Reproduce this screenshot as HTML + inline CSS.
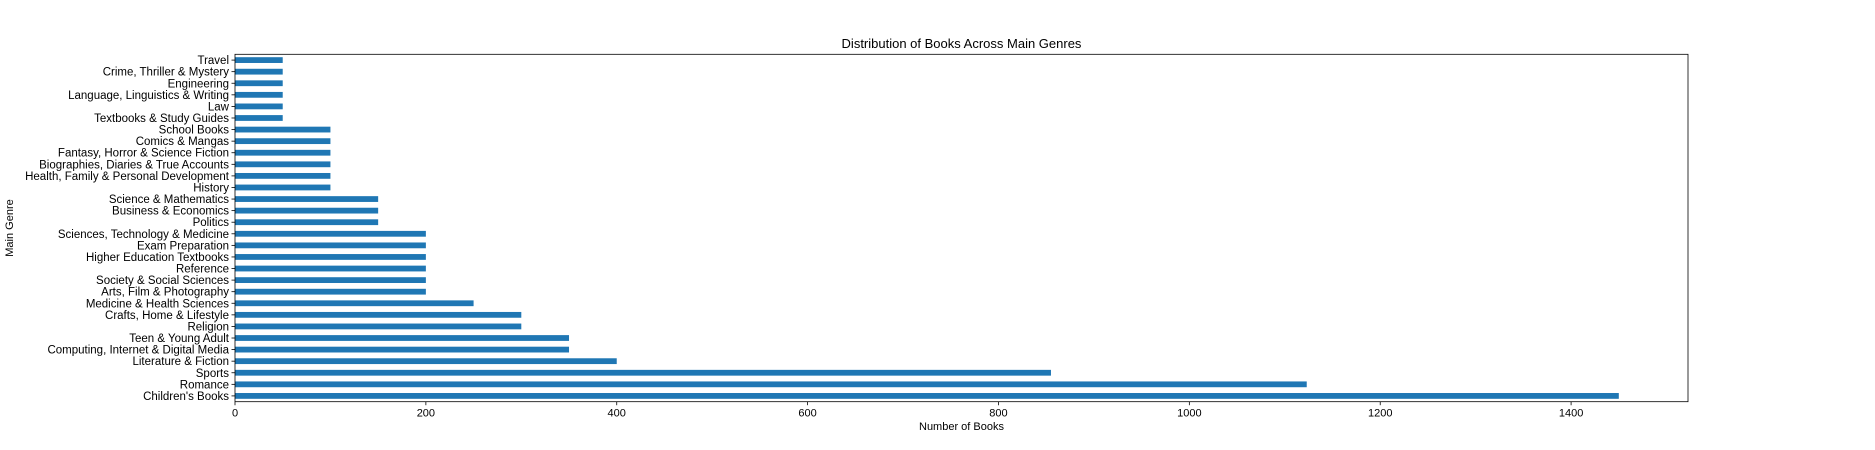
<!DOCTYPE html>
<html><head><meta charset="utf-8"><style>
html,body{margin:0;padding:0;background:#fff;}
svg{display:block;font-family:"Liberation Sans","DejaVu Sans",sans-serif;}
</style></head><body>
<svg id="chart" width="1875" height="450" viewBox="0 0 1875 450"></svg>
<script>
const categories = ["Travel","Crime, Thriller & Mystery","Engineering","Language, Linguistics & Writing","Law","Textbooks & Study Guides","School Books","Comics & Mangas","Fantasy, Horror & Science Fiction","Biographies, Diaries & True Accounts","Health, Family & Personal Development","History","Science & Mathematics","Business & Economics","Politics","Sciences, Technology & Medicine","Exam Preparation","Higher Education Textbooks","Reference","Society & Social Sciences","Arts, Film & Photography","Medicine & Health Sciences","Crafts, Home & Lifestyle","Religion","Teen & Young Adult","Computing, Internet & Digital Media","Literature & Fiction","Sports","Romance","Children's Books"];
const bookCounts = [50,50,50,50,50,50,100,100,100,100,100,100,150,150,150,200,200,200,200,200,200,250,300,300,350,350,400,855,1123,1450];
const xTicks = [0,200,400,600,800,1000,1200,1400];

const NS="http://www.w3.org/2000/svg";
const svg=document.getElementById('chart');
const L=235,R=1688,T=54.3,B=401.7;
const xMax=Math.max(...bookCounts)*1.05;
const x=v=>L+(v/xMax)*(R-L);
const band=(B-T)/categories.length;
const yc=i=>T+band*(i+0.5);
function mk(tag,attrs,parent){const e=document.createElementNS(NS,tag);for(const k in attrs)e.setAttribute(k,attrs[k]);(parent||svg).appendChild(e);return e;}

const bars=mk('g',{});


categories.forEach((c,i)=>{
  const r=mk('rect',{x:x(0),y:yc(i)-band*0.25,width:x(bookCounts[i])-x(0),height:band*0.5,fill:'#1f77b4'},bars);
  
  
  const tk=mk('line',{x1:L-3.5,x2:L,y1:yc(i),y2:yc(i),stroke:'#000','stroke-width':0.8});
  
  
  const t=mk('text',{x:L-6,y:yc(i)+4,'text-anchor':'end','font-size':11.5,fill:'#000'});
  t.textContent=c;
  
  
});
xTicks.forEach(v=>{
  const tk=mk('line',{x1:x(v),x2:x(v),y1:B,y2:B+3.5,stroke:'#000','stroke-width':0.8});
  
  
  const t=mk('text',{x:x(v),y:B+15,'text-anchor':'middle','font-size':11,fill:'#000'});
  t.textContent=v;
  
  
});
const frame=mk('rect',{x:L,y:T,width:R-L,height:B-T,fill:'none',stroke:'#000','stroke-width':0.8});


const title=mk('text',{x:(L+R)/2,y:48,'text-anchor':'middle','font-size':13,fill:'#000'});
title.textContent='Distribution of Books Across Main Genres';


const xl=mk('text',{x:(L+R)/2,y:430,'text-anchor':'middle','font-size':11,fill:'#000'});
xl.textContent='Number of Books';


const yl=mk('text',{x:0,y:0,'text-anchor':'middle','font-size':11,fill:'#000',transform:'translate(13,'+((T+B)/2)+') rotate(-90)'});
yl.textContent='Main Genre';


</script>
</body></html>
